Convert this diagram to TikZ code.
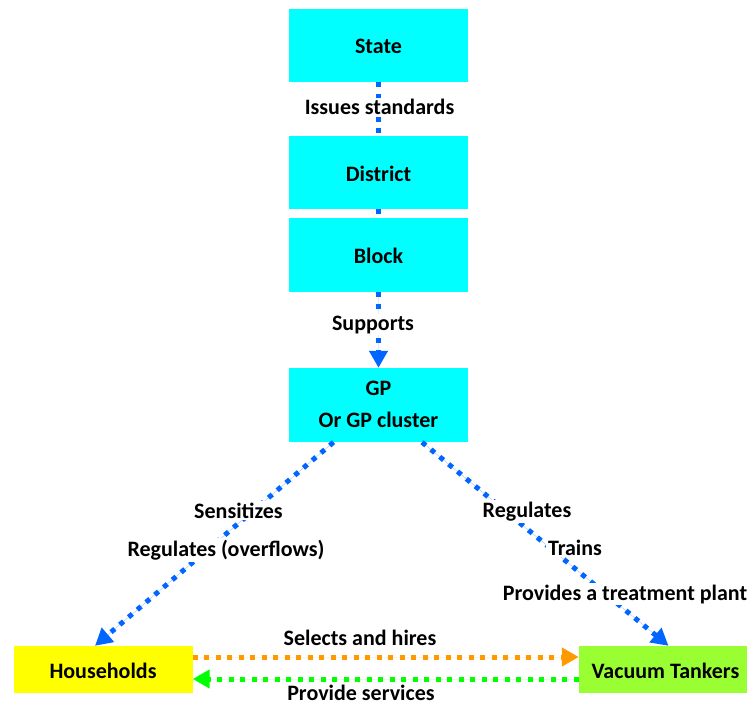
\documentclass[tikz,border=0pt]{standalone}
\usepackage{fontspec}
\setmainfont{Carlito}
\usetikzlibrary{arrows.meta}
\definecolor{cyanbox}{RGB}{0,255,255}
\definecolor{yellowbox}{RGB}{255,255,0}
\definecolor{greenbox}{RGB}{153,255,51}
\definecolor{blueline}{RGB}{0,102,255}
\definecolor{orangeline}{RGB}{255,153,0}
\definecolor{greenline}{RGB}{0,255,0}
\tikzset{
  boxnode/.style={fill=#1, draw=none, minimum width=179pt, inner sep=0pt,
    font=\fontsize{22}{30}\selectfont\bfseries, text height=17pt, text depth=0pt},
  lbl/.style={fill=white, inner sep=2pt, anchor=base,
    font=\fontsize{22}{26}\selectfont\bfseries},
  dotline/.style={draw=#1, line width=5pt, dash pattern=on 5pt off 6.5pt},
  tip/.style={-{Triangle[width=18pt,length=17pt]}},
}
\begin{document}
\begin{tikzpicture}[x=1pt,y=-1pt]
\useasboundingbox (0,0) rectangle (747,706);
\begin{scope}
\clip (0,0) rectangle (747,706);
% boxes
\node[boxnode=cyanbox, minimum height=73pt] (state) at (378.5,45.5) {State};
\node[boxnode=cyanbox, minimum height=73pt] (district) at (378.5,172.5) {District};
\node[boxnode=cyanbox, minimum height=74pt] (block) at (378.5,255) {Block};
\node[boxnode=cyanbox, minimum height=74pt, align=center, text height=44pt] (gp) at (378.5,405) {GP\\[2pt]Or GP cluster};
\node[boxnode=yellowbox, minimum height=47pt] (hh) at (103,669.5) {Households};
\node[boxnode=greenbox, minimum height=47pt] (vt) at (668.5,669.5) {\hspace*{-6pt}Vacuum Tankers};
% connectors
\draw[dotline=blueline] (state.south) -- (district.north);
\draw[dotline=blueline] (district.south) -- (block.north);
\draw[dotline=blueline, tip, fill=blueline] (block.south) -- (gp.north);
\draw[dotline=blueline, tip, fill=blueline] ([xshift=-45pt]gp.south) -- ([xshift=-8pt]hh.north);
\draw[dotline=blueline, tip, fill=blueline] ([xshift=43.5pt]gp.south) -- (vt.north);
\draw[dotline=orangeline, tip, fill=orangeline] ([yshift=12.5pt]hh.east) -- ([yshift=12.5pt]vt.west);
\draw[dotline=greenline, tip, fill=greenline] ([yshift=-9.5pt]vt.west) -- ([yshift=-9.5pt]hh.east);
% labels
\node[lbl] (l1) at (379.5,115) {Issues standards};
\node[lbl] (l2) at (373,330) {Supports};
\node[lbl] (l3) at (238.5,518) {Sensitizes};
\node[lbl] (l4) at (226,556) {Regulates (overflows)};
\node[lbl] (l5) at (527,517) {Regulates};
\node[lbl] (l6) at (575,555) {Trains};
\node[lbl] (l7) at (625,600) {Provides a treatment plant};
\node[lbl, fill=none, inner sep=0pt] (l8) at (360,645) {Selects and hires};
\node[lbl, fill=none, inner sep=0pt] (l9) at (361,700) {Provide services};
\end{scope}
\end{tikzpicture}
\end{document}
